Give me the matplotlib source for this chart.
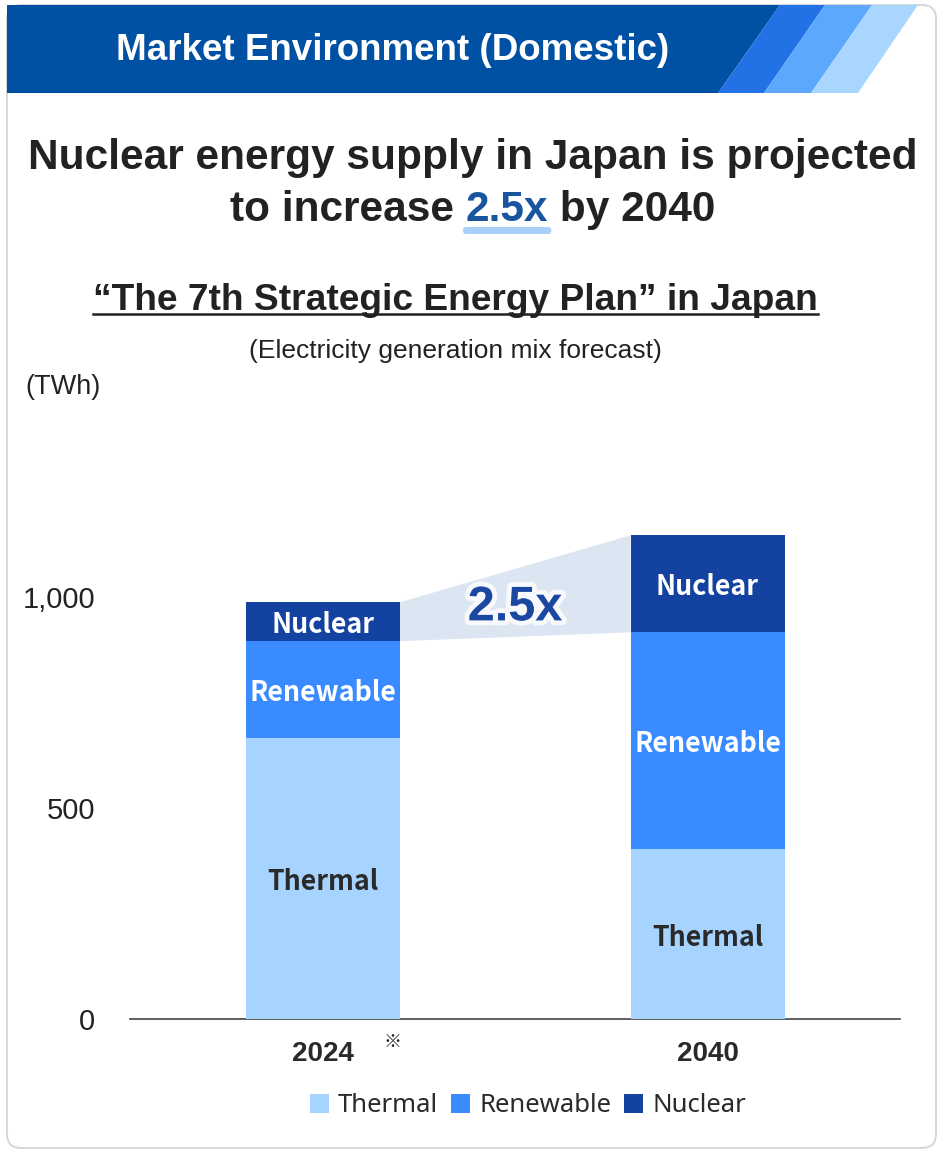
import matplotlib
matplotlib.use("Agg")
import matplotlib.pyplot as plt
from matplotlib.patches import Polygon, FancyBboxPatch
from matplotlib.ticker import FuncFormatter
import matplotlib.patheffects as pe

# data (TWh)
years = ['2024', '2040']
thermal = [667, 402]
renewable = [229, 515]
nuclear = [92, 230]
series_names = ['Thermal', 'Renewable', 'Nuclear']
colors = ['#A6D4FF', '#3A8BFF', '#1342A0']
label_colors = ['#2a2a2a', 'white', 'white']
yticks = [0, 500, 1000]

W, H = 944, 1153
fig = plt.figure(figsize=(W / 100, H / 100), dpi=100)
fig.patch.set_facecolor('white')

# background axes in pixel coordinates for the card / header
bg = fig.add_axes([0, 0, 1, 1])
bg.set_xlim(0, W)
bg.set_ylim(H, 0)
bg.axis('off')

card = FancyBboxPatch((7, 5), 929, 1143, boxstyle="round,pad=0,rounding_size=14",
                      fc='white', ec='#d6d6d6', lw=1.4, zorder=0)
bg.add_patch(card)
# header band + stripes
bg.add_patch(Polygon([(7, 5), (780, 5), (718, 93), (7, 93)], closed=True, fc='#0050A3', ec='none', zorder=1))
bg.add_patch(Polygon([(780, 5), (825, 5), (764, 93), (718, 93)], closed=True, fc='#2272E6', ec='none', zorder=1))
bg.add_patch(Polygon([(825, 5), (872, 5), (811, 93), (764, 93)], closed=True, fc='#5DA8FF', ec='none', zorder=1))
bg.add_patch(Polygon([(872, 5), (918, 5), (858, 93), (811, 93)], closed=True, fc='#A8D6FF', ec='none', zorder=1))
bg.text(393, 50, 'Market Environment (Domestic)', color='white', fontsize=26.5, fontweight='bold',
        family='Liberation Sans', ha='center', va='center', zorder=2)

# headline
bg.text(473, 158, 'Nuclear energy supply in Japan is projected', color='#222222', fontsize=30.5,
        fontweight='bold', family='Liberation Sans', ha='center', va='center')

renderer = fig.canvas.get_renderer()
parts = [('to increase ', '#222222'), ('2.5x', '#1A56A0'), (' by 2040', '#222222')]
tmp = []
for s, c in parts:
    t = bg.text(0, 210, s, color=c, fontsize=30.5, fontweight='bold', family='Liberation Sans',
                ha='left', va='center')
    tmp.append(t)
widths = [t.get_window_extent(renderer).width for t in tmp]
x = 473 - sum(widths) / 2
for t, w in zip(tmp, widths):
    t.set_x(x)
    if t.get_text() == '2.5x':
        bg.add_patch(FancyBboxPatch((x - 3, 227), w + 6, 7, boxstyle="round,pad=0,rounding_size=3.5",
                                    fc='#A8CFF7', ec='none', zorder=1))
        t.set_zorder(2)
    x += w

# sub title
bg.text(455, 300, '\u201cThe 7th Strategic Energy Plan\u201d in Japan', color='#222222', fontsize=26.7,
        fontweight='bold', family='Liberation Sans', ha='center', va='center')
bg.plot([93, 818], [314, 314], color='#222222', lw=1.8)
bg.text(455, 351, '(Electricity generation mix forecast)', color='#222222', fontsize=19,
        family='Liberation Sans', ha='center', va='center')
bg.text(25, 387, '(TWh)', color='#222222', fontsize=19.5, family='Liberation Sans',
        ha='left', va='center')

# chart axes
ax = fig.add_axes([130 / W, 1 - 1019 / H, 770 / W, 506 / H])
ax.patch.set_alpha(0)
x_pos = list(range(len(years)))
bw = 0.4
bottoms = [0] * len(years)
stacks = [thermal, renewable, nuclear]
bars_all = []
for vals, name, col, lc in zip(stacks, series_names, colors, label_colors):
    bars = ax.bar(x_pos, vals, bw, bottom=bottoms, color=col, label=name, zorder=3)
    bars_all.append(bars)
    for xi, v, b in zip(x_pos, vals, bottoms):
        ax.annotate(name, (xi, b + v / 2), xytext=(0, -2.5), textcoords='offset points',
                    ha='center', va='center', color=lc, fontsize=19.3, fontweight='bold',
                    family=['Noto Sans CJK JP', 'Open Sans'], zorder=4)
    bottoms = [b + v for b, v in zip(bottoms, vals)]

# growth wedge between nuclear segments
nb0 = thermal[0] + renewable[0]
nb1 = thermal[1] + renewable[1]
wedge = Polygon([(x_pos[0] + bw / 2, nb0), (x_pos[0] + bw / 2, nb0 + nuclear[0]),
                 (x_pos[1] - bw / 2, nb1 + nuclear[1]), (x_pos[1] - bw / 2, nb1)],
                closed=True, fc='#DCE5F2', ec='none', zorder=1)
ax.add_patch(wedge)
ax.text(0.5, 975, '2.5x', ha='center', va='center', color='#1A47A0', fontsize=35,
        fontweight='bold', family='Liberation Sans', zorder=5,
        path_effects=[pe.withStroke(linewidth=7, foreground='white', alpha=0.8)])

ax.set_xlim(-0.5, 1.5)
ax.set_ylim(0, 1200)
for s in ['top', 'right', 'left']:
    ax.spines[s].set_visible(False)
ax.spines['bottom'].set_color('#444444')
ax.spines['bottom'].set_linewidth(1.2)
ax.set_yticks(yticks)
ax.yaxis.set_major_formatter(FuncFormatter(lambda v, p: f'{int(v):,}'))
ax.tick_params(axis='y', length=0, pad=25, labelsize=21, labelcolor='#222222')
ax.set_xticks(x_pos)
ax.set_xticklabels(years, fontweight='bold', fontsize=20, color='#2a2a2a', family='Liberation Sans')
ax.tick_params(axis='x', length=0, pad=16)
for lab in ax.get_yticklabels():
    lab.set_family('Liberation Sans')

bg.text(392, 1042, '\u203b', fontsize=13, family=['Noto Sans CJK JP', 'DejaVu Sans'],
        ha='center', va='center', color='#222222')

fig.legend(handles=[b[0] for b in bars_all], labels=series_names, loc='center',
           bbox_to_anchor=(528 / W, 1 - 1106 / H), ncol=3, frameon=False,
           handlelength=0.75, handleheight=0.75, handletextpad=0.35, columnspacing=0.5,
           prop={'family': 'Noto Sans', 'size': 18.5}, labelcolor='#2a2a2a')

fig.savefig('out.png', dpi=100, facecolor='white')
